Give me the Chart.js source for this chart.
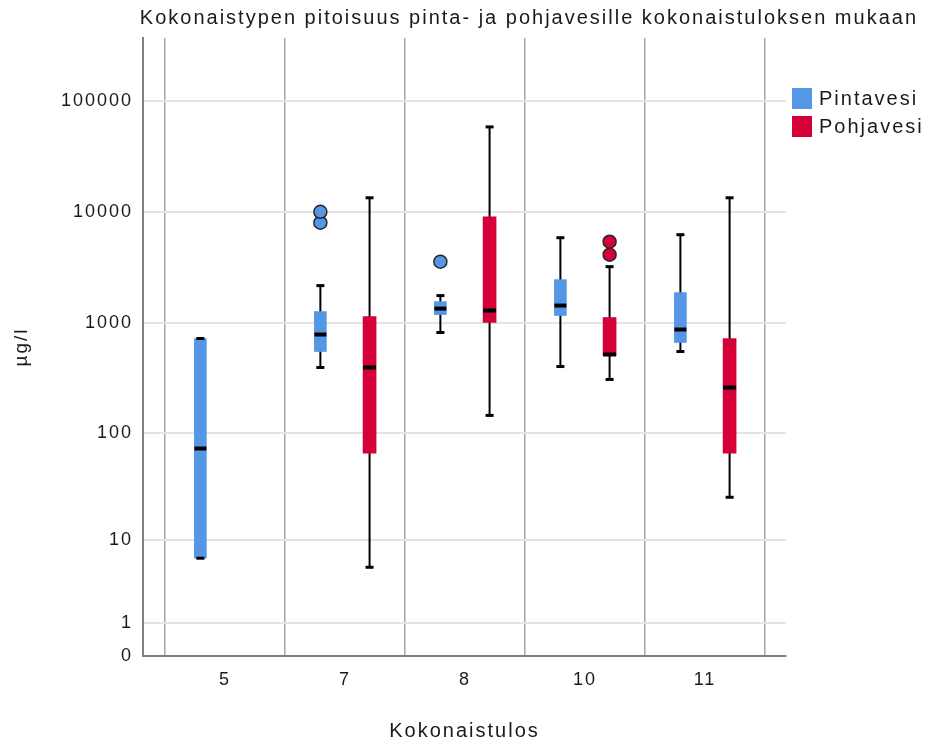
<!DOCTYPE html>
<html>
<head>
<meta charset="utf-8">
<script src="https://cdn.jsdelivr.net/npm/chart.js@4"></script>
<style>
  body { margin: 0; background: #fff; }
  #wrap { width: 928px; height: 744px; }
</style>
</head>
<body>
<div id="wrap"><canvas id="boxChart" width="928" height="744"></canvas></div>
<script>
const categories = ['5', '7', '8', '10', '11'];
const yTickValues = [0, 1, 10, 100, 1000, 10000, 100000];
const yTickLabels = ['0', '1', '10', '100', '1000', '10000', '100000'];

// Pintavesi (surface water), µg/l
const pintaMin = [6.6, 396, 820, 404, 552];
const pintaQ1 = [6.6, 552, 1189, 1166, 666];
const pintaMedian = [73, 786, 1347, 1434, 872];
const pintaQ3 = [724, 1266, 1556, 2455, 1876];
const pintaMax = [724, 2169, 1763, 5859, 6237];
const pintaOutliers = [[], [8000, 10040], [3565], [], []];

// Pohjavesi (groundwater), µg/l
const pohjaMin = [null, 5.3, 146, 309, 25.9];
const pohjaQ1 = [null, 66, 1008, 508, 66];
const pohjaMedian = [null, 396, 1293, 519, 261];
const pohjaQ3 = [null, 1141, 9060, 1119, 723];
const pohjaMax = [null, 13420, 58350, 3213, 13420];
const pohjaOutliers = [[], [], [], [4121, 5395], []];

const BLUE = '#5597e5';
const RED = '#d60039';
const FONT = "'Liberation Sans', Arial, sans-serif";

// safe log axis: log10(1 + x)
const tf = v => Math.log10(1 + v);

const groups = [
  { label: 'Pintavesi', color: BLUE, offset: -0.205, width: 12,
    min: pintaMin, q1: pintaQ1, med: pintaMedian, q3: pintaQ3, max: pintaMax, out: pintaOutliers },
  { label: 'Pohjavesi', color: RED, offset: 0.205, width: 13,
    min: pohjaMin, q1: pohjaQ1, med: pohjaMedian, q3: pohjaQ3, max: pohjaMax, out: pohjaOutliers }
];

const datasets = [];
groups.forEach(g => {
  const boxes = [];
  const points = [];
  categories.forEach((c, i) => {
    if (g.q1[i] != null) boxes.push({ x: i + g.offset, y: [tf(g.q1[i]), tf(g.q3[i])] });
    g.out[i].forEach(v => points.push({ x: i + g.offset, y: tf(v) }));
  });
  datasets.push({
    type: 'bar', label: g.label, data: boxes, backgroundColor: g.color,
    barThickness: g.width, grouped: false, borderWidth: 0, order: 2
  });
  datasets.push({
    type: 'scatter', label: g.label + ' outliers', data: points,
    pointRadius: 6.5, pointBackgroundColor: g.color, pointBorderColor: '#262626',
    pointBorderWidth: 1.5, order: 1
  });
});

function setSpacing(chart) {
  chart.ctx.letterSpacing = '2px';
}

const boxPlugin = {
  id: 'boxParts',
  beforeUpdate: setSpacing,
  beforeDraw: setSpacing,
  beforeDatasetsDraw(chart) {
    const { ctx, scales: { x, y } } = chart;
    ctx.save();
    ctx.strokeStyle = '#000';
    ctx.lineWidth = 2;
    groups.forEach(g => {
      categories.forEach((c, i) => {
        if (g.min[i] == null) return;
        const px = x.getPixelForValue(i + g.offset);
        ctx.beginPath();
        ctx.moveTo(px, y.getPixelForValue(tf(g.min[i])));
        ctx.lineTo(px, y.getPixelForValue(tf(g.max[i])));
        ctx.stroke();
      });
    });
    ctx.restore();
  },
  afterDatasetsDraw(chart) {
    const { ctx, scales: { x, y } } = chart;
    ctx.save();
    ctx.strokeStyle = '#000';
    groups.forEach(g => {
      categories.forEach((c, i) => {
        if (g.min[i] == null) return;
        const px = x.getPixelForValue(i + g.offset);
        // caps
        ctx.lineWidth = 3;
        [g.min[i], g.max[i]].forEach(v => {
          const py = y.getPixelForValue(tf(v));
          ctx.beginPath();
          ctx.moveTo(px - 4, py);
          ctx.lineTo(px + 4, py);
          ctx.stroke();
        });
        // median
        ctx.lineWidth = 4;
        const pm = y.getPixelForValue(tf(g.med[i]));
        ctx.beginPath();
        ctx.moveTo(px - g.width / 2, pm);
        ctx.lineTo(px + g.width / 2, pm);
        ctx.stroke();
      });
    });
    ctx.restore();
  },
  afterDraw(chart) {
    const { ctx, chartArea } = chart;
    ctx.save();
    ctx.font = '20px ' + FONT;
    ctx.textBaseline = 'middle';
    ctx.textAlign = 'left';
    groups.forEach((g, k) => {
      const bx = chartArea.right + 6;
      const by = chartArea.top + 50 + k * 28;
      ctx.fillStyle = g.color;
      ctx.fillRect(bx, by, 20, 21);
      ctx.fillStyle = '#1a1a1a';
      ctx.fillText(g.label, bx + 27, by + 11);
    });
    ctx.restore();
  }
};

new Chart(document.getElementById('boxChart'), {
  data: { datasets },
  options: {
    responsive: false,
    animation: false,
    layout: { padding: { right: 10 } },
    plugins: {
      legend: { display: false },
      tooltip: { enabled: false },
      title: {
        display: true,
        text: 'Kokonaistypen pitoisuus pinta- ja pohjavesille kokonaistuloksen mukaan',
        align: 'end',
        color: '#1a1a1a',
        font: { family: FONT, size: 20, weight: 'normal' },
        padding: { top: 6, bottom: 8 }
      }
    },
    scales: {
      x: {
        type: 'linear',
        offset: false,
        min: -0.683,
        max: 4.675,
        afterBuildTicks: s => {
          const t = [];
          for (let v = -0.5; v <= 4.5; v += 0.5) t.push({ value: v });
          s.ticks = t;
        },
        afterFit: s => { s.height = 88; },
        ticks: {
          autoSkip: false,
          maxRotation: 0,
          padding: 13,
          color: '#1a1a1a',
          font: { family: FONT, size: 18 },
          callback: v => Number.isInteger(v) ? categories[v] : ''
        },
        grid: {
          offset: false,
          drawTicks: false,
          color: c => (c.tick && !Number.isInteger(c.tick.value)) ? '#a6a6a6' : 'rgba(0,0,0,0)',
          lineWidth: 1.5
        },
        border: { color: '#808080', width: 2 },
        title: {
          display: true,
          text: 'Kokonaistulos',
          color: '#1a1a1a',
          font: { family: FONT, size: 20 },
          padding: { top: 0, bottom: 1 }
        }
      },
      y: {
        type: 'linear',
        min: 0,
        max: 5.567,
        afterBuildTicks: s => { s.ticks = yTickValues.map(v => ({ value: tf(v) })); },
        afterFit: s => { s.width = 143; },
        ticks: {
          padding: 10,
          color: '#1a1a1a',
          font: { family: FONT, size: 18 },
          callback: (v, i) => yTickLabels[i]
        },
        grid: { drawTicks: false, color: '#e3e3e3', lineWidth: 2 },
        border: { color: '#808080', width: 2 },
        title: {
          display: true,
          text: 'µg/l',
          color: '#1a1a1a',
          font: { family: FONT, size: 19 },
          padding: { top: 10, bottom: 0 }
        }
      },
      y2: {
        type: 'linear',
        position: 'right',
        display: true,
        afterFit: s => { s.width = 132; },
        ticks: { display: false },
        grid: { display: false },
        border: { display: false }
      }
    }
  },
  plugins: [boxPlugin]
});
</script>
</body>
</html>
